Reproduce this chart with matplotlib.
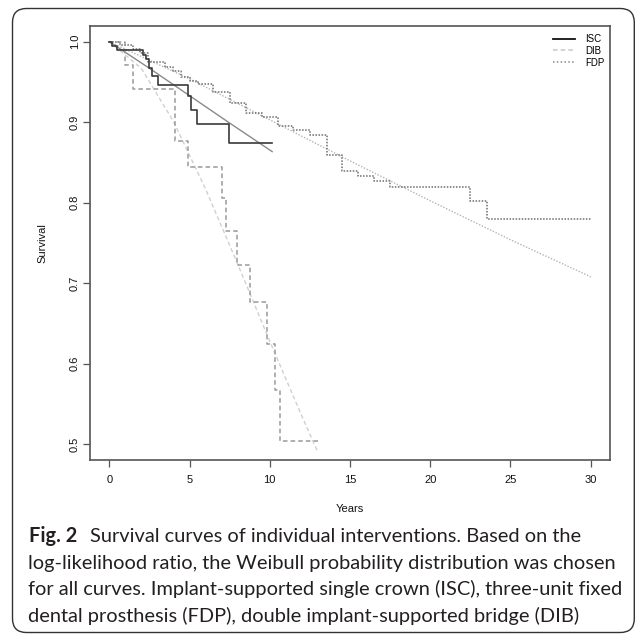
import matplotlib
matplotlib.use("Agg")
import matplotlib.pyplot as plt
from matplotlib.lines import Line2D
from matplotlib.patches import FancyBboxPatch

# ---------------- data ----------------
series_names = ["ISC", "DIB", "FDP"]

# Kaplan-Meier step curves: event times and survival after each step
isc_times = [0, 0.2, 0.46, 2.08, 2.28, 2.49, 2.64, 3.05, 4.92, 5.09, 5.44, 7.47]
isc_surv = [1.0, 0.995, 0.990, 0.984, 0.979, 0.967, 0.957, 0.946, 0.932, 0.915, 0.898, 0.874]
isc_end = 10.15

dib_times = [0, 0.95, 1.50, 4.09, 4.92, 7.03, 7.27, 7.99, 8.80, 9.84, 10.32, 10.63]
dib_surv = [1.0, 0.971, 0.941, 0.877, 0.844, 0.806, 0.765, 0.723, 0.677, 0.625, 0.568, 0.504]
dib_end = 13.0

fdp_times = [0, 0.7, 1.5, 1.9, 2.4, 3.47, 4.0, 4.5, 5.0, 5.54, 6.48, 7.52, 8.49, 9.49,
             10.52, 11.46, 12.50, 13.54, 14.51, 15.50, 16.48, 17.48, 22.50, 23.54]
fdp_surv = [1.0, 0.996, 0.991, 0.986, 0.975, 0.969, 0.963, 0.956, 0.951, 0.947, 0.937,
            0.9235, 0.912, 0.906, 0.895, 0.890, 0.884, 0.859, 0.839, 0.833, 0.827,
            0.819, 0.802, 0.780]
fdp_end = 30.0

# Weibull fitted curves
isc_fit_t = [0, 2.5, 5, 7.5, 10.15]
isc_fit_s = [1.0, 0.967, 0.933, 0.899, 0.8635]

dib_fit_t = [0, 2, 4, 6, 8, 10, 12, 13]
dib_fit_s = [1.0, 0.967, 0.901, 0.817, 0.724, 0.628, 0.535, 0.490]

fdp_fit_t = [0, 5, 10, 15, 20, 25, 30]
fdp_fit_s = [1.0, 0.954, 0.903, 0.852, 0.8025, 0.754, 0.708]

x_ticks = [0, 5, 10, 15, 20, 25, 30]
y_ticks = [0.5, 0.6, 0.7, 0.8, 0.9, 1.0]
y_tick_labels = ["0.5", "0.6", "0.7", "0.8", "0.9", "1.0"]

x_label = "Years"
y_label = "Survival"
caption_bold = "Fig. 2"
caption_lines = [
    "Survival curves of individual interventions. Based on the",
    "log-likelihood ratio, the Weibull probability distribution was chosen",
    "for all curves. Implant-supported single crown (ISC), three-unit fixed",
    "dental prosthesis (FDP), double implant-supported bridge (DIB)",
]

# ---------------- figure ----------------
W, H = 635, 634
fig = plt.figure(figsize=(W / 100, H / 100), dpi=100)
fig.patch.set_facecolor("white")


def fx(px):
    return px / W


def fy(py):
    return 1 - py / H


plot_font = ["Liberation Sans", "DejaVu Sans"]
cap_font = ["Lato", "DejaVu Sans"]

ax = fig.add_axes([fx(90), fy(460), fx(610) - fx(90), fy(26) - fy(460)])

# fitted curves
ax.plot(fdp_fit_t, fdp_fit_s, color="#b4b4b4", lw=1.0, linestyle=(0, (1, 1.2)))
ax.plot(dib_fit_t, dib_fit_s, color="#d0d0d0", lw=1.0, linestyle=(0, (3, 2)))
ax.plot(isc_fit_t, isc_fit_s, color="#8a8a8a", lw=1.0)

# KM step curves
ax.step(fdp_times + [fdp_end], fdp_surv + [fdp_surv[-1]], where="post",
        color="#6e6e6e", lw=1.1, linestyle=(0, (1, 1)))
ax.step(dib_times + [dib_end], dib_surv + [dib_surv[-1]], where="post",
        color="#9a9a9a", lw=1.1, linestyle=(0, (3, 2)))
ax.step(isc_times + [isc_end], isc_surv + [isc_surv[-1]], where="post",
        color="#3a3a3a", lw=1.2)

ax.set_xlim(-1.2, 31.2)
ax.set_ylim(0.4805, 1.0195)
ax.set_xticks(x_ticks)
ax.set_xticklabels([str(v) for v in x_ticks], fontsize=8, family=plot_font, color="#111111")
ax.set_yticks(y_ticks)
ax.set_yticklabels(y_tick_labels, fontsize=8, family=plot_font, color="#111111",
                   rotation=90, va="center")
ax.tick_params(axis="x", direction="out", length=5, width=0.9, color="#555555", pad=6.0)
ax.tick_params(axis="y", direction="out", length=5, width=0.9, color="#555555", pad=2.4)
for sp in ax.spines.values():
    sp.set_color("#555555")
    sp.set_linewidth(1.2)

# legend
handles = [
    Line2D([], [], color="#111111", lw=1.3),
    Line2D([], [], color="#c8c8c8", lw=1.1, linestyle=(0, (3, 2))),
    Line2D([], [], color="#888888", lw=1.1, linestyle=(0, (1, 1.5))),
]
ax.legend(handles, series_names, loc="upper right",
          bbox_to_anchor=(fx(604), fy(34)), bbox_transform=fig.transFigure,
          frameon=False, prop={"family": plot_font, "size": 7},
          handlelength=2.3, handletextpad=1.0, labelspacing=0.18,
          borderpad=0, borderaxespad=0)

fig.text(fx(350), fy(509), x_label, ha="center", va="center", fontsize=8,
         family=plot_font, color="#111111")
fig.text(fx(42), fy(243), y_label, ha="center", va="center", rotation=90,
         fontsize=8, family=plot_font, color="#111111")

# caption, font size fitted to the width of the second line (~590 px)
renderer = fig.canvas.get_renderer()
probe = fig.text(0, 0, caption_lines[1], fontsize=14, family=cap_font)
w = probe.get_window_extent(renderer).width
probe.remove()
cap_fs = 14 * 590.0 / w

baselines = [541.5, 568.5, 595.5, 622.0]
cap_color = "#231f20"
fig.text(fx(29), fy(baselines[0]), caption_bold, fontsize=cap_fs, family=cap_font,
         weight="bold", va="baseline", ha="left", color=cap_color)
fig.text(fx(90.5), fy(baselines[0]), caption_lines[0], fontsize=cap_fs, family=cap_font,
         va="baseline", ha="left", color=cap_color)
for line, b in zip(caption_lines[1:], baselines[1:]):
    fig.text(fx(28.5), fy(b), line, fontsize=cap_fs, family=cap_font,
             va="baseline", ha="left", color=cap_color)

# rounded outer frame
frame = FancyBboxPatch((fx(12.5), fy(632.5)), fx(634.3) - fx(12.5), fy(8.5) - fy(632.5),
                       boxstyle="round,pad=0,rounding_size=0.022",
                       transform=fig.transFigure, fill=False, ec="#333333", lw=1.0)
fig.patches.append(frame)

fig.savefig("out.png", dpi=100, facecolor="white")
